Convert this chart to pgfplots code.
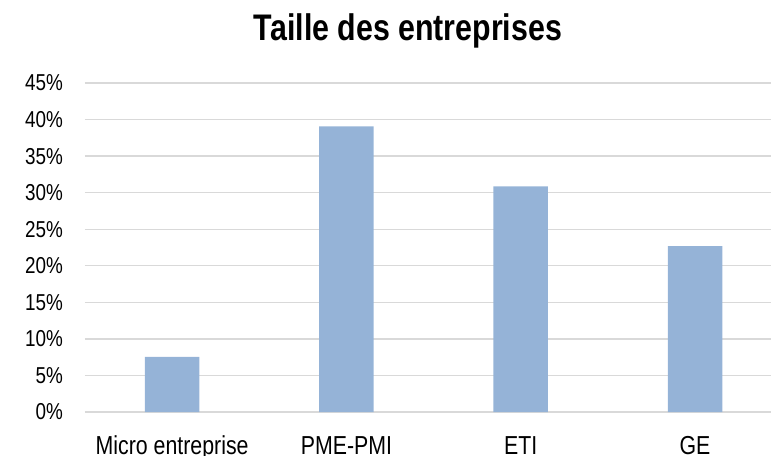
\documentclass[border=0pt]{standalone}
\usepackage{pgfplots}
\pgfplotsset{compat=1.18}
\usepackage{fontspec}
\setmainfont{Liberation Sans}[FakeStretch=0.82]
\definecolor{barblue}{RGB}{149,179,215}
\definecolor{gridgray}{RGB}{217,217,217}
\begin{document}
\begin{tikzpicture}
\begin{axis}[
  at={(0,0)}, anchor=south west,
  scale only axis,
  width=686bp, height=329bp,
  xmin=-0.5, xmax=3.436,
  ymin=0, ymax=45,
  axis line style={draw=none},
  ytick={0,5,...,45},
  yticklabels={0\%,5\%,10\%,15\%,20\%,25\%,30\%,35\%,40\%,45\%},
  xtick={0,1,2,3},
  xticklabels={Micro entreprise,PME-PMI,ETI,GE},
  major tick length=0pt,
  ymajorgrids,
  grid style={draw=gridgray, line width=1.3bp},
  yticklabel style={font=\fontsize{23bp}{26bp}\selectfont, anchor=east, inner sep=0pt, xshift=-22bp},
  xticklabel style={font=\fontsize{26bp}{30bp}\selectfont, anchor=base, inner sep=0pt, yshift=-42bp},
  clip=false,
]
\addplot[ybar, bar width=0.3127, fill=barblue, draw=none] coordinates {
  (0,7.54) (1,39.06) (2,30.87) (3,22.69)
};
\end{axis}
\node[anchor=base, inner sep=0pt, font=\fontsize{37bp}{42bp}\selectfont\bfseries] at (323bp,371bp) {Taille des entreprises};
\pgfresetboundingbox
\useasboundingbox (-85bp,-44bp) rectangle (686bp,412bp);
\end{tikzpicture}
\end{document}
